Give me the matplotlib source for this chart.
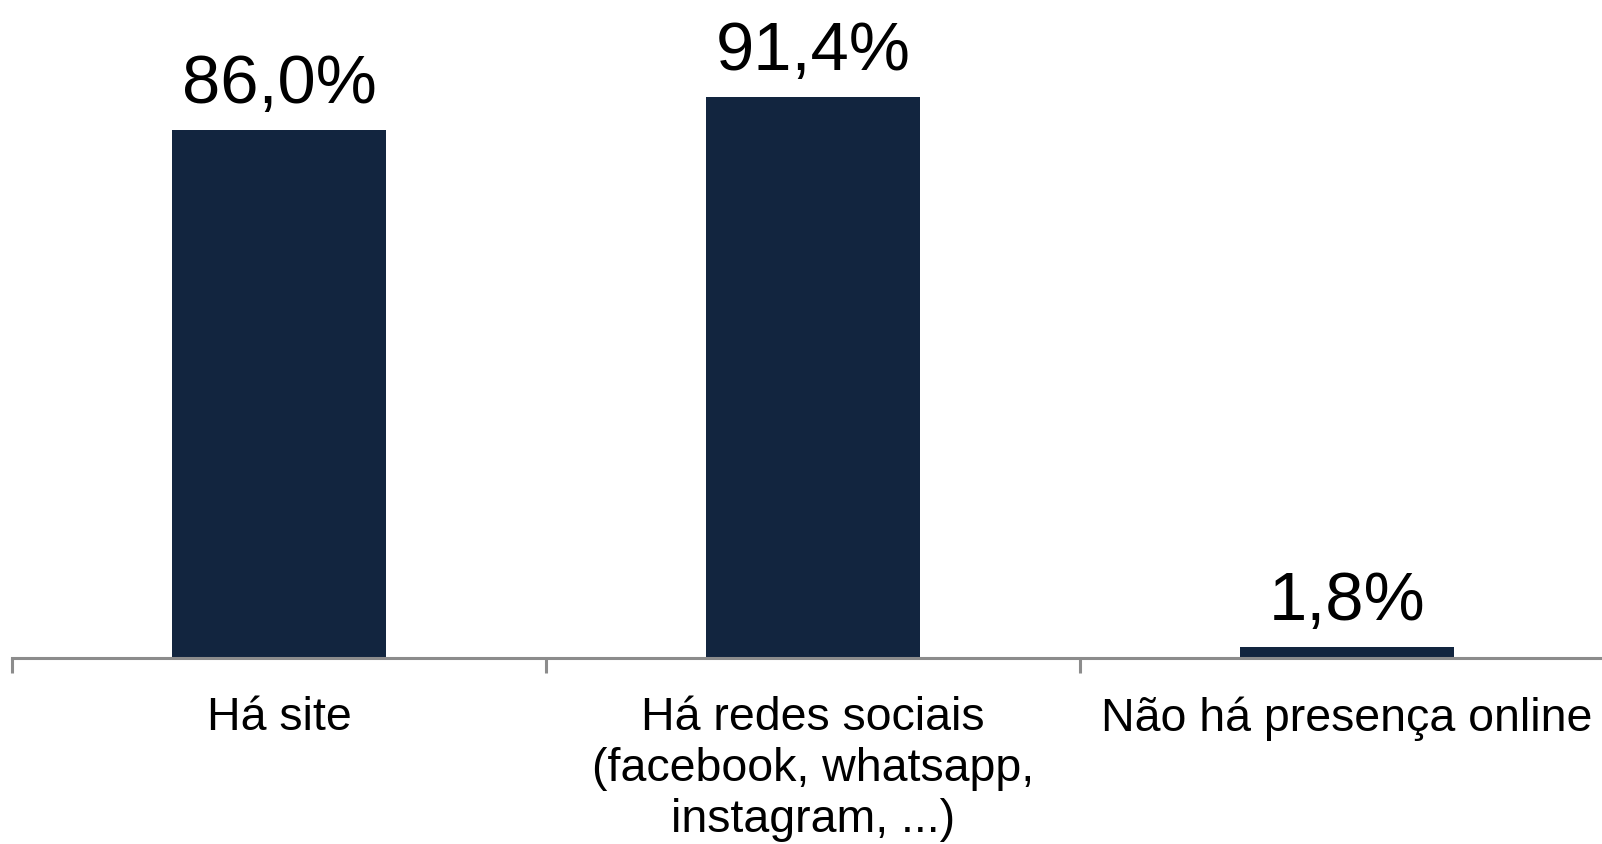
import matplotlib.pyplot as plt

# categories and values (percent)
categories = ['Há site',
              'Há redes sociais\n(facebook, whatsapp,\ninstagram, ...)',
              'Não há presença online']
values = [86.0, 91.4, 1.8]
value_labels = ['86,0%', '91,4%', '1,8%']

bar_color = '#12253f'
axis_color = '#8c8c8c'

plt.rcParams['font.family'] = ['Liberation Sans', 'DejaVu Sans']

fig = plt.figure(figsize=(16.02, 8.45), dpi=100)
# axis baseline at ~659 px from top, one category ~534 px wide
ax = fig.add_axes([12 / 1602, (845 - 659) / 845, 1602 / 1602, 614 / 845])

x = list(range(len(categories)))
bars = ax.bar(x, values, width=0.4, color=bar_color, zorder=1)

# value labels above the bars
for b, lab in zip(bars, value_labels):
    ax.annotate(lab, (b.get_x() + b.get_width() / 2, b.get_height()),
                xytext=(0, 10), textcoords='offset points',
                ha='center', va='bottom', fontsize=49.5, color='black')

ax.set_xlim(-0.5, 2.5)
ax.set_ylim(0, 100)

# ticks between categories, labels at centers
ax.set_xticks([-0.5, 0.5, 1.5, 2.5])
ax.set_xticklabels([])
ax.set_xticks(x, minor=True)
ax.set_xticklabels(categories, minor=True, fontsize=33.5, linespacing=1.2)
ax.tick_params(axis='x', which='major', length=11, width=2.2, color=axis_color)
ax.tick_params(axis='x', which='minor', length=0, pad=27)
ax.set_yticks([])

for s in ['top', 'right', 'left']:
    ax.spines[s].set_visible(False)
ax.spines['bottom'].set_color(axis_color)
ax.spines['bottom'].set_linewidth(2.2)

fig.savefig('out.png', dpi=100)
